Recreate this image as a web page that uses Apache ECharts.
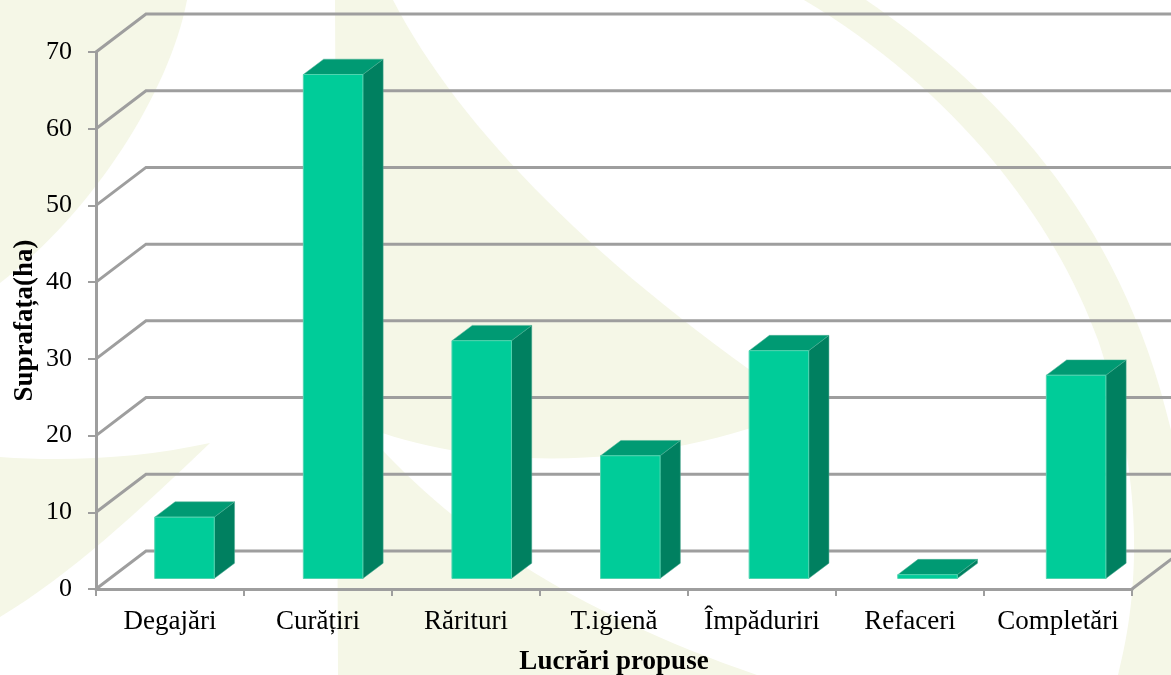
<!DOCTYPE html>
<html>
<head>
<meta charset="utf-8">
<style>
    html, body { margin: 0; padding: 0; background: #fff; }
    #chart { width: 1171px; height: 675px; }
</style>
</head>
<body>
<div id="chart"></div>
<script src="https://cdn.jsdelivr.net/npm/echarts@6/dist/echarts.min.js"></script>
<script>
var categories = ['Degajări', 'Curățiri', 'Rărituri', 'T.igienă', 'Împăduriri', 'Refaceri', 'Completări'];
var surfaces = [8, 65.7, 31, 16, 29.7, 0.5, 26.5];
var yTicks = [0, 10, 20, 30, 40, 50, 60, 70];

var fontFamily = '"Liberation Serif", "Times New Roman", serif';
var lineColor = '#9e9e9e';
var paleColor = '#f5f7e7';

// adancimea peretelui din spate si a barelor (px)
var wallDepth = [50, -38];
var barShift = [14.5, -10.5];
var barDrift = 0.6; // barele se departeaza putin de etichete spre dreapta
var barDepth = [20.3, -15.3];

// filigranul din fundal
var watermarkPaths = [
    'M0,0 L187,0 C170,90 95,210 0,283 Z',
    'M0,457 C70,462 140,458 210,443 C140,510 70,575 0,617 Z',
    'M335,0 L393,0 C460,130 600,270 805,408 C680,462 500,480 360,425 C450,530 570,610 757,675 L338,675 Z',
    'M804,0 L866,0 C990,85 1120,210 1171,430 L1171,675 L1118,675 C1140,590 1145,480 1098,340 C1055,220 955,90 804,0 Z'
];

var chart = echarts.init(document.getElementById('chart'), null, {renderer: 'canvas'});

function renderWatermark(params, api) {
    return {
        type: 'group',
        children: watermarkPaths.map(function(d) {
            return {type: 'path', shape: {pathData: d}, style: {fill: paleColor}};
        })
    };
}

function renderWallLine(params, api) {
    var rect = params.coordSys;
    var y = api.coord([0, api.value(0)])[1];
    var left = rect.x;
    var right = rect.x + rect.width;
    var points = [[left, y], [left + wallDepth[0], y + wallDepth[1]], [right + wallDepth[0], y + wallDepth[1]]];
    if (api.value(0) === 0) {
        // podeaua, muchia din dreapta
        points.push([right, y]);
    }
    return {
        type: 'polyline',
        shape: {points: points},
        style: {fill: 'none', stroke: lineColor, lineWidth: 3}
    };
}

function renderBar(params, api) {
    var base = api.coord([api.value(0), 0]);
    var top = api.coord([api.value(0), api.value(1)]);
    var w = api.size([1, 0])[0] * 0.402;
    var x0 = base[0] + barShift[0] + barDrift * api.value(0) - w / 2;
    var x1 = x0 + w;
    var yb = base[1] + barShift[1];
    var yt = top[1] + barShift[1];
    var dx = barDepth[0], dy = barDepth[1];
    return {
        type: 'group',
        children: [{
            type: 'polygon',
            shape: {points: [[x1, yb], [x1 + dx, yb + dy], [x1 + dx, yt + dy], [x1, yt]]},
            style: {fill: '#008060', stroke: '#4fa892', lineWidth: 0.5}
        }, {
            type: 'polygon',
            shape: {points: [[x0, yt], [x1, yt], [x1 + dx, yt + dy], [x0 + dx, yt + dy]]},
            style: {fill: '#009a73', stroke: '#4fb094', lineWidth: 0.5}
        }, {
            type: 'rect',
            shape: {x: x0, y: yt, width: w, height: yb - yt},
            style: {fill: '#00cc99', stroke: '#50d4b0', lineWidth: 1}
        }]
    };
}

var option = {
    animation: false,
    backgroundColor: '#fff',
    grid: {left: 96, right: 39, top: 52, bottom: 86, outerBoundsMode: 'none'},
    xAxis: {
        type: 'category',
        data: categories,
        boundaryGap: true,
        name: 'Lucrări propuse',
        nameLocation: 'middle',
        nameGap: 60,
        nameMoveOverlap: false,
        nameTextStyle: {fontFamily: fontFamily, fontSize: 27, fontWeight: 'bold', color: '#000'},
        axisLine: {lineStyle: {color: lineColor, width: 3}},
        axisTick: {show: true, length: 7, lineStyle: {color: lineColor, width: 2}},
        axisLabel: {fontFamily: fontFamily, fontSize: 27, color: '#000', margin: 19, interval: 0}
    },
    yAxis: {
        type: 'value',
        min: 0,
        max: 70,
        interval: 10,
        name: 'Suprafața(ha)',
        nameLocation: 'middle',
        nameGap: 57,
        nameMoveOverlap: false,
        nameTextStyle: {fontFamily: fontFamily, fontSize: 27, fontWeight: 'bold', color: '#000'},
        axisLine: {show: true, lineStyle: {color: lineColor, width: 3}},
        axisTick: {show: true, length: 8, lineStyle: {color: lineColor, width: 2}},
        axisLabel: {fontFamily: fontFamily, fontSize: 26, color: '#000', margin: 24},
        splitLine: {show: false}
    },
    series: [{
        type: 'custom',
        name: 'watermark',
        coordinateSystem: 'none',
        z: -1,
        silent: true,
        renderItem: renderWatermark,
        data: [0]
    }, {
        type: 'custom',
        name: 'wall',
        z: 1,
        clip: false,
        silent: true,
        renderItem: renderWallLine,
        encode: {y: 0},
        data: yTicks.map(function(v) { return [v]; })
    }, {
        type: 'custom',
        name: 'Suprafața',
        z: 3,
        clip: false,
        renderItem: renderBar,
        encode: {x: 0, y: 1},
        data: surfaces.map(function(v, i) { return [i, v]; })
    }]
};
chart.setOption(option);
</script>
</body>
</html>
